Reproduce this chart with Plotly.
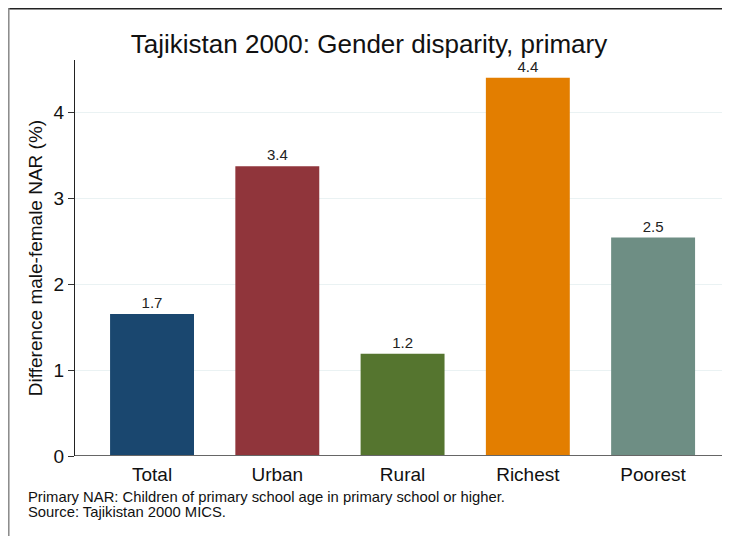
import plotly.graph_objects as go

categories = ["Total", "Urban", "Rural", "Richest", "Poorest"]
values = [1.65, 3.37, 1.19, 4.40, 2.54]
labels = ["1.7", "3.4", "1.2", "4.4", "2.5"]
colors = ["#1a476f", "#90353b", "#55752f", "#e37e00", "#6e8e84"]
y_ticks = [0, 1, 2, 3, 4]
notes = ["Primary NAR: Children of primary school age in primary school or higher.",
         "Source: Tajikistan 2000 MICS."]

OFF = 8  # page body margin
W, H = 730 - OFF, 536 - OFF
L, R, T, B = 75 - OFF, 8, 60 - OFF, 80
pw, ph = W - L - R, H - T - B

def px(x):  # page x -> paper x
    return (x - OFF - L) / pw

def py(y):  # page y -> paper y
    return (H - B - (y - OFF)) / ph

fig = go.Figure()
fig.add_trace(go.Bar(
    x=list(range(len(categories))), y=values,
    marker=dict(color=colors, line=dict(width=0)),
    width=0.67,
    text=labels, textposition="outside",
    textfont=dict(family="Liberation Sans, Arial", size=15, color="#222222"),
    cliponaxis=False,
))

fig.update_layout(
    width=W, height=H,
    margin=dict(l=L, r=R, t=T, b=B, autoexpand=False),
    paper_bgcolor="white", plot_bgcolor="white",
    showlegend=False,
    font=dict(family="Liberation Sans, Arial", color="#111111"),
    title=dict(text="Tajikistan 2000: Gender disparity, primary",
               x=px(398.5), xanchor="center", y=1 - (44 - OFF) / H, yanchor="middle",
               font=dict(size=26, color="#111111")),
    xaxis=dict(range=[-0.615, 4.55], tickmode="array",
               tickvals=list(range(len(categories))), ticktext=categories,
               showgrid=False, zeroline=False, showline=False, ticks="",
               tickfont=dict(size=19), ticklabelstandoff=5, fixedrange=True),
    yaxis=dict(range=[0, 4.605], tickmode="array", tickvals=y_ticks,
               showgrid=True, gridcolor="#eaf2f3", gridwidth=1.2,
               zeroline=False, showline=True, linecolor="#222222", linewidth=1,
               ticks="outside", ticklen=6, tickcolor="#333333",
               tickfont=dict(size=19),
               title=dict(text="Difference male-female NAR (%)",
                          font=dict(size=19), standoff=5)),
    bargap=0.33,
)

# baseline
fig.add_shape(type="line", xref="paper", yref="y", x0=0, x1=1, y0=0, y1=0,
              line=dict(color="#666666", width=2), layer="above")
# outer frame (top and left)
fig.add_shape(type="line", xref="paper", yref="paper", x0=px(8), x1=px(730),
              y0=py(8.8), y1=py(8.8), line=dict(color="#222222", width=1.5))
fig.add_shape(type="line", xref="paper", yref="paper", x0=px(8.8), x1=px(8.8),
              y0=py(8), y1=py(536), line=dict(color="#888888", width=1.5))

for i, note in enumerate(notes):
    fig.add_annotation(
        text=note, xref="paper", yref="paper", x=px(27), y=py(496.5 + 15.2 * i),
        xanchor="left", yanchor="middle", showarrow=False, borderpad=0,
        font=dict(size=14.8, color="#111111"),
    )

fig.write_html("out.html")
